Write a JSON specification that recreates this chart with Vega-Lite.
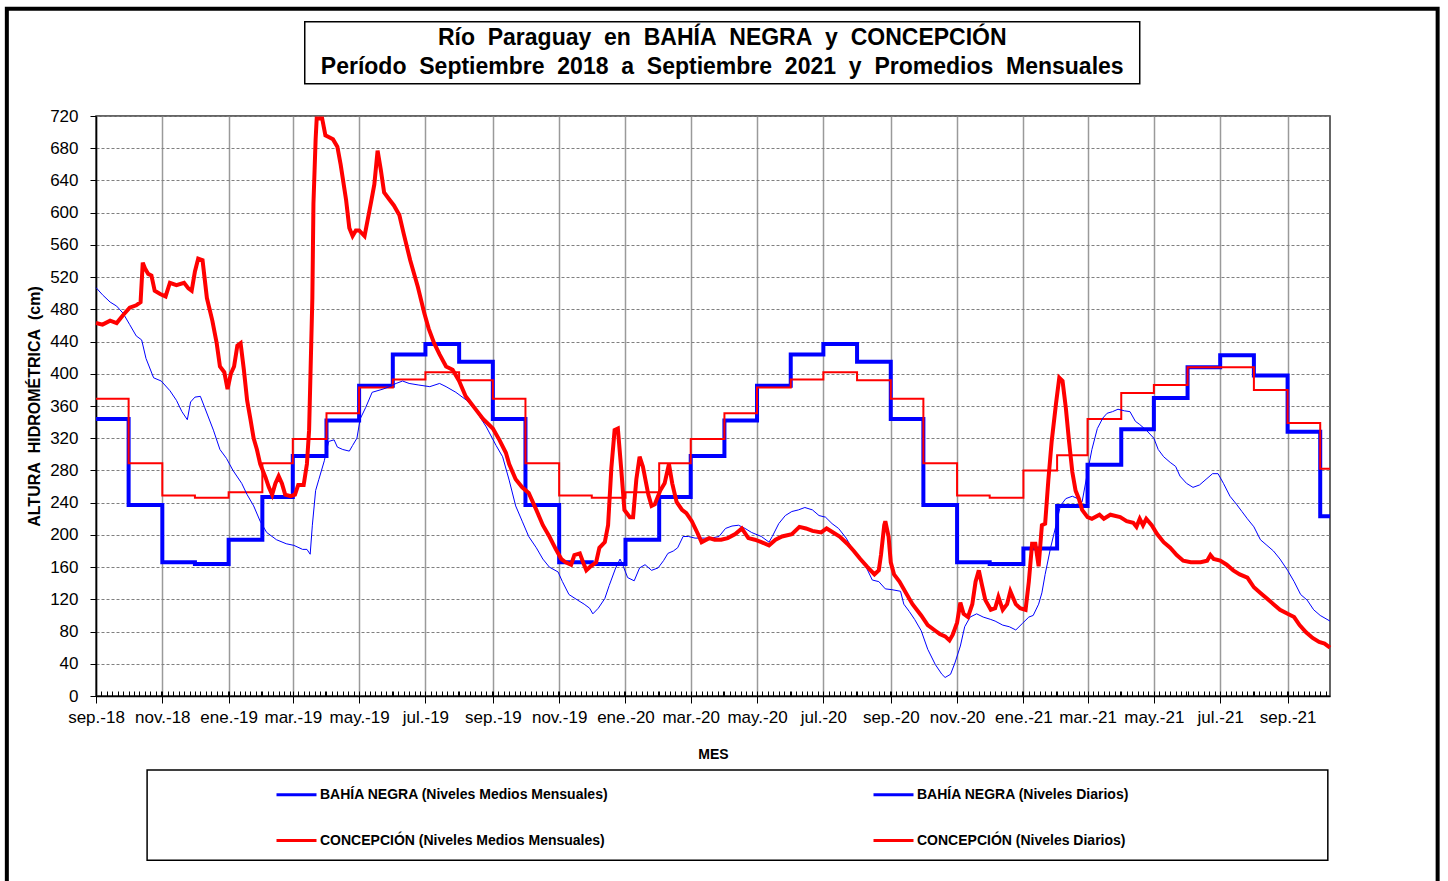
{
  "$schema": "https://vega.github.io/schema/vega-lite/v6.json",
  "width": 1234,
  "height": 580,
  "autosize": {"type": "none"},
  "padding": {"left": 96, "top": 116, "right": 118, "bottom": 185},
  "background": "white",
  "config": {
    "font": "Liberation Sans",
    "view": {"stroke": "#333333", "strokeWidth": 1.5},
    "axisY": {
      "grid": true,
      "gridColor": "#7f7f7f",
      "gridDash": [3, 2],
      "gridWidth": 1,
      "labelFont": "Liberation Sans",
      "labelFontSize": 17,
      "labelColor": "black",
      "labelPadding": 12,
      "labelOverlap": false,
      "tickSize": 6,
      "tickColor": "black",
      "domainColor": "black",
      "domainWidth": 1.5,
      "titleFont": "Liberation Sans",
      "titleFontSize": 16,
      "titleFontWeight": "bold",
      "titleColor": "black",
      "titlePadding": 7
    }
  },
  "datasets": {
    "mensual": [
      {"serie": "BAHÍA NEGRA (Niveles Medios Mensuales)", "fecha": "2018-09-01", "altura": 344},
      {"serie": "BAHÍA NEGRA (Niveles Medios Mensuales)", "fecha": "2018-10-01", "altura": 237},
      {"serie": "BAHÍA NEGRA (Niveles Medios Mensuales)", "fecha": "2018-11-01", "altura": 166},
      {"serie": "BAHÍA NEGRA (Niveles Medios Mensuales)", "fecha": "2018-12-01", "altura": 164},
      {"serie": "BAHÍA NEGRA (Niveles Medios Mensuales)", "fecha": "2019-01-01", "altura": 194},
      {"serie": "BAHÍA NEGRA (Niveles Medios Mensuales)", "fecha": "2019-02-01", "altura": 247},
      {"serie": "BAHÍA NEGRA (Niveles Medios Mensuales)", "fecha": "2019-03-01", "altura": 298},
      {"serie": "BAHÍA NEGRA (Niveles Medios Mensuales)", "fecha": "2019-04-01", "altura": 342},
      {"serie": "BAHÍA NEGRA (Niveles Medios Mensuales)", "fecha": "2019-05-01", "altura": 385},
      {"serie": "BAHÍA NEGRA (Niveles Medios Mensuales)", "fecha": "2019-06-01", "altura": 424},
      {"serie": "BAHÍA NEGRA (Niveles Medios Mensuales)", "fecha": "2019-07-01", "altura": 437},
      {"serie": "BAHÍA NEGRA (Niveles Medios Mensuales)", "fecha": "2019-08-01", "altura": 415},
      {"serie": "BAHÍA NEGRA (Niveles Medios Mensuales)", "fecha": "2019-09-01", "altura": 344},
      {"serie": "BAHÍA NEGRA (Niveles Medios Mensuales)", "fecha": "2019-10-01", "altura": 237},
      {"serie": "BAHÍA NEGRA (Niveles Medios Mensuales)", "fecha": "2019-11-01", "altura": 166},
      {"serie": "BAHÍA NEGRA (Niveles Medios Mensuales)", "fecha": "2019-12-01", "altura": 164},
      {"serie": "BAHÍA NEGRA (Niveles Medios Mensuales)", "fecha": "2020-01-01", "altura": 194},
      {"serie": "BAHÍA NEGRA (Niveles Medios Mensuales)", "fecha": "2020-02-01", "altura": 247},
      {"serie": "BAHÍA NEGRA (Niveles Medios Mensuales)", "fecha": "2020-03-01", "altura": 298},
      {"serie": "BAHÍA NEGRA (Niveles Medios Mensuales)", "fecha": "2020-04-01", "altura": 342},
      {"serie": "BAHÍA NEGRA (Niveles Medios Mensuales)", "fecha": "2020-05-01", "altura": 385},
      {"serie": "BAHÍA NEGRA (Niveles Medios Mensuales)", "fecha": "2020-06-01", "altura": 424},
      {"serie": "BAHÍA NEGRA (Niveles Medios Mensuales)", "fecha": "2020-07-01", "altura": 437},
      {"serie": "BAHÍA NEGRA (Niveles Medios Mensuales)", "fecha": "2020-08-01", "altura": 415},
      {"serie": "BAHÍA NEGRA (Niveles Medios Mensuales)", "fecha": "2020-09-01", "altura": 344},
      {"serie": "BAHÍA NEGRA (Niveles Medios Mensuales)", "fecha": "2020-10-01", "altura": 237},
      {"serie": "BAHÍA NEGRA (Niveles Medios Mensuales)", "fecha": "2020-11-01", "altura": 166},
      {"serie": "BAHÍA NEGRA (Niveles Medios Mensuales)", "fecha": "2020-12-01", "altura": 164},
      {"serie": "BAHÍA NEGRA (Niveles Medios Mensuales)", "fecha": "2021-01-01", "altura": 183},
      {"serie": "BAHÍA NEGRA (Niveles Medios Mensuales)", "fecha": "2021-02-01", "altura": 236},
      {"serie": "BAHÍA NEGRA (Niveles Medios Mensuales)", "fecha": "2021-03-01", "altura": 287},
      {"serie": "BAHÍA NEGRA (Niveles Medios Mensuales)", "fecha": "2021-04-01", "altura": 331},
      {"serie": "BAHÍA NEGRA (Niveles Medios Mensuales)", "fecha": "2021-05-01", "altura": 370},
      {"serie": "BAHÍA NEGRA (Niveles Medios Mensuales)", "fecha": "2021-06-01", "altura": 408},
      {"serie": "BAHÍA NEGRA (Niveles Medios Mensuales)", "fecha": "2021-07-01", "altura": 423},
      {"serie": "BAHÍA NEGRA (Niveles Medios Mensuales)", "fecha": "2021-08-01", "altura": 398},
      {"serie": "BAHÍA NEGRA (Niveles Medios Mensuales)", "fecha": "2021-09-01", "altura": 328},
      {"serie": "BAHÍA NEGRA (Niveles Medios Mensuales)", "fecha": "2021-10-01", "altura": 223},
      {"serie": "BAHÍA NEGRA (Niveles Medios Mensuales)", "fecha": "2021-10-10", "altura": 223},
      {"serie": "CONCEPCIÓN (Niveles Medios Mensuales)", "fecha": "2018-09-01", "altura": 369},
      {"serie": "CONCEPCIÓN (Niveles Medios Mensuales)", "fecha": "2018-10-01", "altura": 289},
      {"serie": "CONCEPCIÓN (Niveles Medios Mensuales)", "fecha": "2018-11-01", "altura": 249},
      {"serie": "CONCEPCIÓN (Niveles Medios Mensuales)", "fecha": "2018-12-01", "altura": 246},
      {"serie": "CONCEPCIÓN (Niveles Medios Mensuales)", "fecha": "2019-01-01", "altura": 253},
      {"serie": "CONCEPCIÓN (Niveles Medios Mensuales)", "fecha": "2019-02-01", "altura": 289},
      {"serie": "CONCEPCIÓN (Niveles Medios Mensuales)", "fecha": "2019-03-01", "altura": 319},
      {"serie": "CONCEPCIÓN (Niveles Medios Mensuales)", "fecha": "2019-04-01", "altura": 351},
      {"serie": "CONCEPCIÓN (Niveles Medios Mensuales)", "fecha": "2019-05-01", "altura": 383},
      {"serie": "CONCEPCIÓN (Niveles Medios Mensuales)", "fecha": "2019-06-01", "altura": 393},
      {"serie": "CONCEPCIÓN (Niveles Medios Mensuales)", "fecha": "2019-07-01", "altura": 402},
      {"serie": "CONCEPCIÓN (Niveles Medios Mensuales)", "fecha": "2019-08-01", "altura": 392},
      {"serie": "CONCEPCIÓN (Niveles Medios Mensuales)", "fecha": "2019-09-01", "altura": 369},
      {"serie": "CONCEPCIÓN (Niveles Medios Mensuales)", "fecha": "2019-10-01", "altura": 289},
      {"serie": "CONCEPCIÓN (Niveles Medios Mensuales)", "fecha": "2019-11-01", "altura": 249},
      {"serie": "CONCEPCIÓN (Niveles Medios Mensuales)", "fecha": "2019-12-01", "altura": 246},
      {"serie": "CONCEPCIÓN (Niveles Medios Mensuales)", "fecha": "2020-01-01", "altura": 253},
      {"serie": "CONCEPCIÓN (Niveles Medios Mensuales)", "fecha": "2020-02-01", "altura": 289},
      {"serie": "CONCEPCIÓN (Niveles Medios Mensuales)", "fecha": "2020-03-01", "altura": 319},
      {"serie": "CONCEPCIÓN (Niveles Medios Mensuales)", "fecha": "2020-04-01", "altura": 351},
      {"serie": "CONCEPCIÓN (Niveles Medios Mensuales)", "fecha": "2020-05-01", "altura": 383},
      {"serie": "CONCEPCIÓN (Niveles Medios Mensuales)", "fecha": "2020-06-01", "altura": 393},
      {"serie": "CONCEPCIÓN (Niveles Medios Mensuales)", "fecha": "2020-07-01", "altura": 402},
      {"serie": "CONCEPCIÓN (Niveles Medios Mensuales)", "fecha": "2020-08-01", "altura": 392},
      {"serie": "CONCEPCIÓN (Niveles Medios Mensuales)", "fecha": "2020-09-01", "altura": 369},
      {"serie": "CONCEPCIÓN (Niveles Medios Mensuales)", "fecha": "2020-10-01", "altura": 289},
      {"serie": "CONCEPCIÓN (Niveles Medios Mensuales)", "fecha": "2020-11-01", "altura": 249},
      {"serie": "CONCEPCIÓN (Niveles Medios Mensuales)", "fecha": "2020-12-01", "altura": 246},
      {"serie": "CONCEPCIÓN (Niveles Medios Mensuales)", "fecha": "2021-01-01", "altura": 280},
      {"serie": "CONCEPCIÓN (Niveles Medios Mensuales)", "fecha": "2021-02-01", "altura": 299},
      {"serie": "CONCEPCIÓN (Niveles Medios Mensuales)", "fecha": "2021-03-01", "altura": 344},
      {"serie": "CONCEPCIÓN (Niveles Medios Mensuales)", "fecha": "2021-04-01", "altura": 376},
      {"serie": "CONCEPCIÓN (Niveles Medios Mensuales)", "fecha": "2021-05-01", "altura": 386},
      {"serie": "CONCEPCIÓN (Niveles Medios Mensuales)", "fecha": "2021-06-01", "altura": 408},
      {"serie": "CONCEPCIÓN (Niveles Medios Mensuales)", "fecha": "2021-07-01", "altura": 408},
      {"serie": "CONCEPCIÓN (Niveles Medios Mensuales)", "fecha": "2021-08-01", "altura": 380},
      {"serie": "CONCEPCIÓN (Niveles Medios Mensuales)", "fecha": "2021-09-01", "altura": 339},
      {"serie": "CONCEPCIÓN (Niveles Medios Mensuales)", "fecha": "2021-10-01", "altura": 282},
      {"serie": "CONCEPCIÓN (Niveles Medios Mensuales)", "fecha": "2021-10-10", "altura": 282}
    ],
    "diario": [
      {"serie": "BAHÍA NEGRA (Niveles Diarios)", "fecha": "2018-09-01", "altura": 507},
      {"serie": "BAHÍA NEGRA (Niveles Diarios)", "fecha": "2018-09-07", "altura": 498},
      {"serie": "BAHÍA NEGRA (Niveles Diarios)", "fecha": "2018-09-14", "altura": 489},
      {"serie": "BAHÍA NEGRA (Niveles Diarios)", "fecha": "2018-09-20", "altura": 484},
      {"serie": "BAHÍA NEGRA (Niveles Diarios)", "fecha": "2018-09-26", "altura": 475},
      {"serie": "BAHÍA NEGRA (Niveles Diarios)", "fecha": "2018-10-02", "altura": 461},
      {"serie": "BAHÍA NEGRA (Niveles Diarios)", "fecha": "2018-10-08", "altura": 447},
      {"serie": "BAHÍA NEGRA (Niveles Diarios)", "fecha": "2018-10-13", "altura": 442},
      {"serie": "BAHÍA NEGRA (Niveles Diarios)", "fecha": "2018-10-17", "altura": 419},
      {"serie": "BAHÍA NEGRA (Niveles Diarios)", "fecha": "2018-10-24", "altura": 395},
      {"serie": "BAHÍA NEGRA (Niveles Diarios)", "fecha": "2018-10-31", "altura": 391},
      {"serie": "BAHÍA NEGRA (Niveles Diarios)", "fecha": "2018-11-08", "altura": 379},
      {"serie": "BAHÍA NEGRA (Niveles Diarios)", "fecha": "2018-11-14", "altura": 367},
      {"serie": "BAHÍA NEGRA (Niveles Diarios)", "fecha": "2018-11-19", "altura": 353},
      {"serie": "BAHÍA NEGRA (Niveles Diarios)", "fecha": "2018-11-24", "altura": 343},
      {"serie": "BAHÍA NEGRA (Niveles Diarios)", "fecha": "2018-11-27", "altura": 365},
      {"serie": "BAHÍA NEGRA (Niveles Diarios)", "fecha": "2018-12-01", "altura": 371},
      {"serie": "BAHÍA NEGRA (Niveles Diarios)", "fecha": "2018-12-06", "altura": 372},
      {"serie": "BAHÍA NEGRA (Niveles Diarios)", "fecha": "2018-12-10", "altura": 358},
      {"serie": "BAHÍA NEGRA (Niveles Diarios)", "fecha": "2018-12-18", "altura": 330},
      {"serie": "BAHÍA NEGRA (Niveles Diarios)", "fecha": "2018-12-24", "altura": 306},
      {"serie": "BAHÍA NEGRA (Niveles Diarios)", "fecha": "2018-12-30", "altura": 295},
      {"serie": "BAHÍA NEGRA (Niveles Diarios)", "fecha": "2019-01-05", "altura": 280},
      {"serie": "BAHÍA NEGRA (Niveles Diarios)", "fecha": "2019-01-13", "altura": 264},
      {"serie": "BAHÍA NEGRA (Niveles Diarios)", "fecha": "2019-01-18", "altura": 250},
      {"serie": "BAHÍA NEGRA (Niveles Diarios)", "fecha": "2019-01-24", "altura": 236},
      {"serie": "BAHÍA NEGRA (Niveles Diarios)", "fecha": "2019-01-30", "altura": 217},
      {"serie": "BAHÍA NEGRA (Niveles Diarios)", "fecha": "2019-02-05", "altura": 203},
      {"serie": "BAHÍA NEGRA (Niveles Diarios)", "fecha": "2019-02-14", "altura": 194},
      {"serie": "BAHÍA NEGRA (Niveles Diarios)", "fecha": "2019-02-23", "altura": 189},
      {"serie": "BAHÍA NEGRA (Niveles Diarios)", "fecha": "2019-03-02", "altura": 187},
      {"serie": "BAHÍA NEGRA (Niveles Diarios)", "fecha": "2019-03-10", "altura": 182},
      {"serie": "BAHÍA NEGRA (Niveles Diarios)", "fecha": "2019-03-14", "altura": 182},
      {"serie": "BAHÍA NEGRA (Niveles Diarios)", "fecha": "2019-03-17", "altura": 176},
      {"serie": "BAHÍA NEGRA (Niveles Diarios)", "fecha": "2019-03-19", "altura": 212},
      {"serie": "BAHÍA NEGRA (Niveles Diarios)", "fecha": "2019-03-22", "altura": 255},
      {"serie": "BAHÍA NEGRA (Niveles Diarios)", "fecha": "2019-03-25", "altura": 269},
      {"serie": "BAHÍA NEGRA (Niveles Diarios)", "fecha": "2019-03-30", "altura": 292},
      {"serie": "BAHÍA NEGRA (Niveles Diarios)", "fecha": "2019-04-03", "altura": 316},
      {"serie": "BAHÍA NEGRA (Niveles Diarios)", "fecha": "2019-04-08", "altura": 318},
      {"serie": "BAHÍA NEGRA (Niveles Diarios)", "fecha": "2019-04-11", "altura": 309},
      {"serie": "BAHÍA NEGRA (Niveles Diarios)", "fecha": "2019-04-16", "altura": 306},
      {"serie": "BAHÍA NEGRA (Niveles Diarios)", "fecha": "2019-04-22", "altura": 304},
      {"serie": "BAHÍA NEGRA (Niveles Diarios)", "fecha": "2019-04-25", "altura": 311},
      {"serie": "BAHÍA NEGRA (Niveles Diarios)", "fecha": "2019-04-29", "altura": 320},
      {"serie": "BAHÍA NEGRA (Niveles Diarios)", "fecha": "2019-05-02", "altura": 344},
      {"serie": "BAHÍA NEGRA (Niveles Diarios)", "fecha": "2019-05-07", "altura": 358},
      {"serie": "BAHÍA NEGRA (Niveles Diarios)", "fecha": "2019-05-13", "altura": 377},
      {"serie": "BAHÍA NEGRA (Niveles Diarios)", "fecha": "2019-05-23", "altura": 381},
      {"serie": "BAHÍA NEGRA (Niveles Diarios)", "fecha": "2019-05-29", "altura": 384},
      {"serie": "BAHÍA NEGRA (Niveles Diarios)", "fecha": "2019-06-04", "altura": 388},
      {"serie": "BAHÍA NEGRA (Niveles Diarios)", "fecha": "2019-06-10", "altura": 391},
      {"serie": "BAHÍA NEGRA (Niveles Diarios)", "fecha": "2019-06-16", "altura": 388},
      {"serie": "BAHÍA NEGRA (Niveles Diarios)", "fecha": "2019-06-25", "altura": 386},
      {"serie": "BAHÍA NEGRA (Niveles Diarios)", "fecha": "2019-07-05", "altura": 384},
      {"serie": "BAHÍA NEGRA (Niveles Diarios)", "fecha": "2019-07-14", "altura": 388},
      {"serie": "BAHÍA NEGRA (Niveles Diarios)", "fecha": "2019-07-20", "altura": 384},
      {"serie": "BAHÍA NEGRA (Niveles Diarios)", "fecha": "2019-07-29", "altura": 377},
      {"serie": "BAHÍA NEGRA (Niveles Diarios)", "fecha": "2019-08-08", "altura": 367},
      {"serie": "BAHÍA NEGRA (Niveles Diarios)", "fecha": "2019-08-17", "altura": 353},
      {"serie": "BAHÍA NEGRA (Niveles Diarios)", "fecha": "2019-08-26", "altura": 334},
      {"serie": "BAHÍA NEGRA (Niveles Diarios)", "fecha": "2019-09-04", "altura": 311},
      {"serie": "BAHÍA NEGRA (Niveles Diarios)", "fecha": "2019-09-10", "altura": 297},
      {"serie": "BAHÍA NEGRA (Niveles Diarios)", "fecha": "2019-09-16", "altura": 268},
      {"serie": "BAHÍA NEGRA (Niveles Diarios)", "fecha": "2019-09-22", "altura": 236},
      {"serie": "BAHÍA NEGRA (Niveles Diarios)", "fecha": "2019-09-28", "altura": 217},
      {"serie": "BAHÍA NEGRA (Niveles Diarios)", "fecha": "2019-10-04", "altura": 198},
      {"serie": "BAHÍA NEGRA (Niveles Diarios)", "fecha": "2019-10-11", "altura": 184},
      {"serie": "BAHÍA NEGRA (Niveles Diarios)", "fecha": "2019-10-17", "altura": 170},
      {"serie": "BAHÍA NEGRA (Niveles Diarios)", "fecha": "2019-10-23", "altura": 160},
      {"serie": "BAHÍA NEGRA (Niveles Diarios)", "fecha": "2019-10-31", "altura": 154},
      {"serie": "BAHÍA NEGRA (Niveles Diarios)", "fecha": "2019-11-04", "altura": 142},
      {"serie": "BAHÍA NEGRA (Niveles Diarios)", "fecha": "2019-11-10", "altura": 126},
      {"serie": "BAHÍA NEGRA (Niveles Diarios)", "fecha": "2019-11-18", "altura": 119},
      {"serie": "BAHÍA NEGRA (Niveles Diarios)", "fecha": "2019-11-24", "altura": 114},
      {"serie": "BAHÍA NEGRA (Niveles Diarios)", "fecha": "2019-11-29", "altura": 109},
      {"serie": "BAHÍA NEGRA (Niveles Diarios)", "fecha": "2019-12-02", "altura": 102},
      {"serie": "BAHÍA NEGRA (Niveles Diarios)", "fecha": "2019-12-07", "altura": 109},
      {"serie": "BAHÍA NEGRA (Niveles Diarios)", "fecha": "2019-12-13", "altura": 121},
      {"serie": "BAHÍA NEGRA (Niveles Diarios)", "fecha": "2019-12-17", "altura": 137},
      {"serie": "BAHÍA NEGRA (Niveles Diarios)", "fecha": "2019-12-23", "altura": 159},
      {"serie": "BAHÍA NEGRA (Niveles Diarios)", "fecha": "2019-12-27", "altura": 170},
      {"serie": "BAHÍA NEGRA (Niveles Diarios)", "fecha": "2019-12-30", "altura": 161},
      {"serie": "BAHÍA NEGRA (Niveles Diarios)", "fecha": "2020-01-03", "altura": 147},
      {"serie": "BAHÍA NEGRA (Niveles Diarios)", "fecha": "2020-01-09", "altura": 143},
      {"serie": "BAHÍA NEGRA (Niveles Diarios)", "fecha": "2020-01-14", "altura": 159},
      {"serie": "BAHÍA NEGRA (Niveles Diarios)", "fecha": "2020-01-19", "altura": 163},
      {"serie": "BAHÍA NEGRA (Niveles Diarios)", "fecha": "2020-01-25", "altura": 156},
      {"serie": "BAHÍA NEGRA (Niveles Diarios)", "fecha": "2020-01-31", "altura": 159},
      {"serie": "BAHÍA NEGRA (Niveles Diarios)", "fecha": "2020-02-05", "altura": 168},
      {"serie": "BAHÍA NEGRA (Niveles Diarios)", "fecha": "2020-02-09", "altura": 177},
      {"serie": "BAHÍA NEGRA (Niveles Diarios)", "fecha": "2020-02-14", "altura": 180},
      {"serie": "BAHÍA NEGRA (Niveles Diarios)", "fecha": "2020-02-18", "altura": 184},
      {"serie": "BAHÍA NEGRA (Niveles Diarios)", "fecha": "2020-02-23", "altura": 198},
      {"serie": "BAHÍA NEGRA (Niveles Diarios)", "fecha": "2020-02-28", "altura": 198},
      {"serie": "BAHÍA NEGRA (Niveles Diarios)", "fecha": "2020-03-05", "altura": 196},
      {"serie": "BAHÍA NEGRA (Niveles Diarios)", "fecha": "2020-03-14", "altura": 196},
      {"serie": "BAHÍA NEGRA (Niveles Diarios)", "fecha": "2020-03-20", "altura": 196},
      {"serie": "BAHÍA NEGRA (Niveles Diarios)", "fecha": "2020-03-27", "altura": 198},
      {"serie": "BAHÍA NEGRA (Niveles Diarios)", "fecha": "2020-04-02", "altura": 208},
      {"serie": "BAHÍA NEGRA (Niveles Diarios)", "fecha": "2020-04-08", "altura": 211},
      {"serie": "BAHÍA NEGRA (Niveles Diarios)", "fecha": "2020-04-14", "altura": 212},
      {"serie": "BAHÍA NEGRA (Niveles Diarios)", "fecha": "2020-04-20", "altura": 208},
      {"serie": "BAHÍA NEGRA (Niveles Diarios)", "fecha": "2020-04-26", "altura": 203},
      {"serie": "BAHÍA NEGRA (Niveles Diarios)", "fecha": "2020-05-05", "altura": 198},
      {"serie": "BAHÍA NEGRA (Niveles Diarios)", "fecha": "2020-05-12", "altura": 191},
      {"serie": "BAHÍA NEGRA (Niveles Diarios)", "fecha": "2020-05-15", "altura": 198},
      {"serie": "BAHÍA NEGRA (Niveles Diarios)", "fecha": "2020-05-21", "altura": 214},
      {"serie": "BAHÍA NEGRA (Niveles Diarios)", "fecha": "2020-05-27", "altura": 224},
      {"serie": "BAHÍA NEGRA (Niveles Diarios)", "fecha": "2020-06-02", "altura": 229},
      {"serie": "BAHÍA NEGRA (Niveles Diarios)", "fecha": "2020-06-08", "altura": 231},
      {"serie": "BAHÍA NEGRA (Niveles Diarios)", "fecha": "2020-06-14", "altura": 234},
      {"serie": "BAHÍA NEGRA (Niveles Diarios)", "fecha": "2020-06-21", "altura": 231},
      {"serie": "BAHÍA NEGRA (Niveles Diarios)", "fecha": "2020-06-27", "altura": 224},
      {"serie": "BAHÍA NEGRA (Niveles Diarios)", "fecha": "2020-07-03", "altura": 222},
      {"serie": "BAHÍA NEGRA (Niveles Diarios)", "fecha": "2020-07-09", "altura": 214},
      {"serie": "BAHÍA NEGRA (Niveles Diarios)", "fecha": "2020-07-15", "altura": 208},
      {"serie": "BAHÍA NEGRA (Niveles Diarios)", "fecha": "2020-07-22", "altura": 196},
      {"serie": "BAHÍA NEGRA (Niveles Diarios)", "fecha": "2020-07-28", "altura": 182},
      {"serie": "BAHÍA NEGRA (Niveles Diarios)", "fecha": "2020-08-03", "altura": 173},
      {"serie": "BAHÍA NEGRA (Niveles Diarios)", "fecha": "2020-08-09", "altura": 161},
      {"serie": "BAHÍA NEGRA (Niveles Diarios)", "fecha": "2020-08-15", "altura": 144},
      {"serie": "BAHÍA NEGRA (Niveles Diarios)", "fecha": "2020-08-21", "altura": 142},
      {"serie": "BAHÍA NEGRA (Niveles Diarios)", "fecha": "2020-08-27", "altura": 133},
      {"serie": "BAHÍA NEGRA (Niveles Diarios)", "fecha": "2020-09-02", "altura": 132},
      {"serie": "BAHÍA NEGRA (Niveles Diarios)", "fecha": "2020-09-10", "altura": 130},
      {"serie": "BAHÍA NEGRA (Niveles Diarios)", "fecha": "2020-09-13", "altura": 114},
      {"serie": "BAHÍA NEGRA (Niveles Diarios)", "fecha": "2020-09-18", "altura": 105},
      {"serie": "BAHÍA NEGRA (Niveles Diarios)", "fecha": "2020-09-23", "altura": 95},
      {"serie": "BAHÍA NEGRA (Niveles Diarios)", "fecha": "2020-09-29", "altura": 81},
      {"serie": "BAHÍA NEGRA (Niveles Diarios)", "fecha": "2020-10-05", "altura": 58},
      {"serie": "BAHÍA NEGRA (Niveles Diarios)", "fecha": "2020-10-12", "altura": 39},
      {"serie": "BAHÍA NEGRA (Niveles Diarios)", "fecha": "2020-10-18", "altura": 27},
      {"serie": "BAHÍA NEGRA (Niveles Diarios)", "fecha": "2020-10-21", "altura": 23},
      {"serie": "BAHÍA NEGRA (Niveles Diarios)", "fecha": "2020-10-26", "altura": 27},
      {"serie": "BAHÍA NEGRA (Niveles Diarios)", "fecha": "2020-10-30", "altura": 41},
      {"serie": "BAHÍA NEGRA (Niveles Diarios)", "fecha": "2020-11-04", "altura": 62},
      {"serie": "BAHÍA NEGRA (Niveles Diarios)", "fecha": "2020-11-08", "altura": 86},
      {"serie": "BAHÍA NEGRA (Niveles Diarios)", "fecha": "2020-11-13", "altura": 98},
      {"serie": "BAHÍA NEGRA (Niveles Diarios)", "fecha": "2020-11-19", "altura": 102},
      {"serie": "BAHÍA NEGRA (Niveles Diarios)", "fecha": "2020-11-25", "altura": 98},
      {"serie": "BAHÍA NEGRA (Niveles Diarios)", "fecha": "2020-12-02", "altura": 95},
      {"serie": "BAHÍA NEGRA (Niveles Diarios)", "fecha": "2020-12-06", "altura": 93},
      {"serie": "BAHÍA NEGRA (Niveles Diarios)", "fecha": "2020-12-13", "altura": 88},
      {"serie": "BAHÍA NEGRA (Niveles Diarios)", "fecha": "2020-12-19", "altura": 86},
      {"serie": "BAHÍA NEGRA (Niveles Diarios)", "fecha": "2020-12-25", "altura": 82},
      {"serie": "BAHÍA NEGRA (Niveles Diarios)", "fecha": "2020-12-31", "altura": 90},
      {"serie": "BAHÍA NEGRA (Niveles Diarios)", "fecha": "2021-01-06", "altura": 98},
      {"serie": "BAHÍA NEGRA (Niveles Diarios)", "fecha": "2021-01-10", "altura": 100},
      {"serie": "BAHÍA NEGRA (Niveles Diarios)", "fecha": "2021-01-15", "altura": 114},
      {"serie": "BAHÍA NEGRA (Niveles Diarios)", "fecha": "2021-01-18", "altura": 128},
      {"serie": "BAHÍA NEGRA (Niveles Diarios)", "fecha": "2021-01-21", "altura": 151},
      {"serie": "BAHÍA NEGRA (Niveles Diarios)", "fecha": "2021-01-26", "altura": 184},
      {"serie": "BAHÍA NEGRA (Niveles Diarios)", "fecha": "2021-01-31", "altura": 212},
      {"serie": "BAHÍA NEGRA (Niveles Diarios)", "fecha": "2021-02-04", "altura": 236},
      {"serie": "BAHÍA NEGRA (Niveles Diarios)", "fecha": "2021-02-09", "altura": 245},
      {"serie": "BAHÍA NEGRA (Niveles Diarios)", "fecha": "2021-02-15", "altura": 248},
      {"serie": "BAHÍA NEGRA (Niveles Diarios)", "fecha": "2021-02-20", "altura": 245},
      {"serie": "BAHÍA NEGRA (Niveles Diarios)", "fecha": "2021-02-24", "altura": 241},
      {"serie": "BAHÍA NEGRA (Niveles Diarios)", "fecha": "2021-03-01", "altura": 278},
      {"serie": "BAHÍA NEGRA (Niveles Diarios)", "fecha": "2021-03-05", "altura": 306},
      {"serie": "BAHÍA NEGRA (Niveles Diarios)", "fecha": "2021-03-10", "altura": 332},
      {"serie": "BAHÍA NEGRA (Niveles Diarios)", "fecha": "2021-03-15", "altura": 345},
      {"serie": "BAHÍA NEGRA (Niveles Diarios)", "fecha": "2021-03-19", "altura": 351},
      {"serie": "BAHÍA NEGRA (Niveles Diarios)", "fecha": "2021-03-24", "altura": 353},
      {"serie": "BAHÍA NEGRA (Niveles Diarios)", "fecha": "2021-03-29", "altura": 356},
      {"serie": "BAHÍA NEGRA (Niveles Diarios)", "fecha": "2021-04-04", "altura": 354},
      {"serie": "BAHÍA NEGRA (Niveles Diarios)", "fecha": "2021-04-09", "altura": 353},
      {"serie": "BAHÍA NEGRA (Niveles Diarios)", "fecha": "2021-04-14", "altura": 341},
      {"serie": "BAHÍA NEGRA (Niveles Diarios)", "fecha": "2021-04-18", "altura": 337},
      {"serie": "BAHÍA NEGRA (Niveles Diarios)", "fecha": "2021-04-24", "altura": 330},
      {"serie": "BAHÍA NEGRA (Niveles Diarios)", "fecha": "2021-05-01", "altura": 320},
      {"serie": "BAHÍA NEGRA (Niveles Diarios)", "fecha": "2021-05-05", "altura": 306},
      {"serie": "BAHÍA NEGRA (Niveles Diarios)", "fecha": "2021-05-10", "altura": 297},
      {"serie": "BAHÍA NEGRA (Niveles Diarios)", "fecha": "2021-05-16", "altura": 290},
      {"serie": "BAHÍA NEGRA (Niveles Diarios)", "fecha": "2021-05-21", "altura": 285},
      {"serie": "BAHÍA NEGRA (Niveles Diarios)", "fecha": "2021-05-25", "altura": 273},
      {"serie": "BAHÍA NEGRA (Niveles Diarios)", "fecha": "2021-05-31", "altura": 264},
      {"serie": "BAHÍA NEGRA (Niveles Diarios)", "fecha": "2021-06-06", "altura": 259},
      {"serie": "BAHÍA NEGRA (Niveles Diarios)", "fecha": "2021-06-12", "altura": 262},
      {"serie": "BAHÍA NEGRA (Niveles Diarios)", "fecha": "2021-06-18", "altura": 269},
      {"serie": "BAHÍA NEGRA (Niveles Diarios)", "fecha": "2021-06-24", "altura": 276},
      {"serie": "BAHÍA NEGRA (Niveles Diarios)", "fecha": "2021-06-29", "altura": 276},
      {"serie": "BAHÍA NEGRA (Niveles Diarios)", "fecha": "2021-07-04", "altura": 264},
      {"serie": "BAHÍA NEGRA (Niveles Diarios)", "fecha": "2021-07-10", "altura": 248},
      {"serie": "BAHÍA NEGRA (Niveles Diarios)", "fecha": "2021-07-16", "altura": 238},
      {"serie": "BAHÍA NEGRA (Niveles Diarios)", "fecha": "2021-07-21", "altura": 229},
      {"serie": "BAHÍA NEGRA (Niveles Diarios)", "fecha": "2021-07-26", "altura": 220},
      {"serie": "BAHÍA NEGRA (Niveles Diarios)", "fecha": "2021-08-01", "altura": 210},
      {"serie": "BAHÍA NEGRA (Niveles Diarios)", "fecha": "2021-08-07", "altura": 194},
      {"serie": "BAHÍA NEGRA (Niveles Diarios)", "fecha": "2021-08-13", "altura": 187},
      {"serie": "BAHÍA NEGRA (Niveles Diarios)", "fecha": "2021-08-19", "altura": 180},
      {"serie": "BAHÍA NEGRA (Niveles Diarios)", "fecha": "2021-08-25", "altura": 170},
      {"serie": "BAHÍA NEGRA (Niveles Diarios)", "fecha": "2021-09-01", "altura": 156},
      {"serie": "BAHÍA NEGRA (Niveles Diarios)", "fecha": "2021-09-07", "altura": 142},
      {"serie": "BAHÍA NEGRA (Niveles Diarios)", "fecha": "2021-09-13", "altura": 126},
      {"serie": "BAHÍA NEGRA (Niveles Diarios)", "fecha": "2021-09-19", "altura": 119},
      {"serie": "BAHÍA NEGRA (Niveles Diarios)", "fecha": "2021-09-25", "altura": 107},
      {"serie": "BAHÍA NEGRA (Niveles Diarios)", "fecha": "2021-10-01", "altura": 100},
      {"serie": "BAHÍA NEGRA (Niveles Diarios)", "fecha": "2021-10-10", "altura": 93},
      {"serie": "CONCEPCIÓN (Niveles Diarios)", "fecha": "2018-09-01", "altura": 463},
      {"serie": "CONCEPCIÓN (Niveles Diarios)", "fecha": "2018-09-07", "altura": 461},
      {"serie": "CONCEPCIÓN (Niveles Diarios)", "fecha": "2018-09-14", "altura": 466},
      {"serie": "CONCEPCIÓN (Niveles Diarios)", "fecha": "2018-09-20", "altura": 463},
      {"serie": "CONCEPCIÓN (Niveles Diarios)", "fecha": "2018-09-26", "altura": 473},
      {"serie": "CONCEPCIÓN (Niveles Diarios)", "fecha": "2018-10-02", "altura": 482},
      {"serie": "CONCEPCIÓN (Niveles Diarios)", "fecha": "2018-10-08", "altura": 485},
      {"serie": "CONCEPCIÓN (Niveles Diarios)", "fecha": "2018-10-12", "altura": 489},
      {"serie": "CONCEPCIÓN (Niveles Diarios)", "fecha": "2018-10-14", "altura": 538},
      {"serie": "CONCEPCIÓN (Niveles Diarios)", "fecha": "2018-10-16", "altura": 531},
      {"serie": "CONCEPCIÓN (Niveles Diarios)", "fecha": "2018-10-19", "altura": 524},
      {"serie": "CONCEPCIÓN (Niveles Diarios)", "fecha": "2018-10-22", "altura": 522},
      {"serie": "CONCEPCIÓN (Niveles Diarios)", "fecha": "2018-10-25", "altura": 503},
      {"serie": "CONCEPCIÓN (Niveles Diarios)", "fecha": "2018-10-30", "altura": 499},
      {"serie": "CONCEPCIÓN (Niveles Diarios)", "fecha": "2018-11-04", "altura": 496},
      {"serie": "CONCEPCIÓN (Niveles Diarios)", "fecha": "2018-11-08", "altura": 513},
      {"serie": "CONCEPCIÓN (Niveles Diarios)", "fecha": "2018-11-14", "altura": 510},
      {"serie": "CONCEPCIÓN (Niveles Diarios)", "fecha": "2018-11-21", "altura": 513},
      {"serie": "CONCEPCIÓN (Niveles Diarios)", "fecha": "2018-11-25", "altura": 506},
      {"serie": "CONCEPCIÓN (Niveles Diarios)", "fecha": "2018-11-28", "altura": 503},
      {"serie": "CONCEPCIÓN (Niveles Diarios)", "fecha": "2018-12-01", "altura": 527},
      {"serie": "CONCEPCIÓN (Niveles Diarios)", "fecha": "2018-12-04", "altura": 543},
      {"serie": "CONCEPCIÓN (Niveles Diarios)", "fecha": "2018-12-08", "altura": 541},
      {"serie": "CONCEPCIÓN (Niveles Diarios)", "fecha": "2018-12-12", "altura": 494},
      {"serie": "CONCEPCIÓN (Niveles Diarios)", "fecha": "2018-12-17", "altura": 466},
      {"serie": "CONCEPCIÓN (Niveles Diarios)", "fecha": "2018-12-21", "altura": 438},
      {"serie": "CONCEPCIÓN (Niveles Diarios)", "fecha": "2018-12-24", "altura": 409},
      {"serie": "CONCEPCIÓN (Niveles Diarios)", "fecha": "2018-12-28", "altura": 402},
      {"serie": "CONCEPCIÓN (Niveles Diarios)", "fecha": "2018-12-31", "altura": 381},
      {"serie": "CONCEPCIÓN (Niveles Diarios)", "fecha": "2019-01-03", "altura": 400},
      {"serie": "CONCEPCIÓN (Niveles Diarios)", "fecha": "2019-01-06", "altura": 409},
      {"serie": "CONCEPCIÓN (Niveles Diarios)", "fecha": "2019-01-09", "altura": 435},
      {"serie": "CONCEPCIÓN (Niveles Diarios)", "fecha": "2019-01-12", "altura": 438},
      {"serie": "CONCEPCIÓN (Niveles Diarios)", "fecha": "2019-01-15", "altura": 405},
      {"serie": "CONCEPCIÓN (Niveles Diarios)", "fecha": "2019-01-18", "altura": 367},
      {"serie": "CONCEPCIÓN (Niveles Diarios)", "fecha": "2019-01-21", "altura": 344},
      {"serie": "CONCEPCIÓN (Niveles Diarios)", "fecha": "2019-01-24", "altura": 320},
      {"serie": "CONCEPCIÓN (Niveles Diarios)", "fecha": "2019-01-27", "altura": 306},
      {"serie": "CONCEPCIÓN (Niveles Diarios)", "fecha": "2019-01-30", "altura": 288},
      {"serie": "CONCEPCIÓN (Niveles Diarios)", "fecha": "2019-02-04", "altura": 271},
      {"serie": "CONCEPCIÓN (Niveles Diarios)", "fecha": "2019-02-07", "altura": 259},
      {"serie": "CONCEPCIÓN (Niveles Diarios)", "fecha": "2019-02-10", "altura": 250},
      {"serie": "CONCEPCIÓN (Niveles Diarios)", "fecha": "2019-02-13", "altura": 264},
      {"serie": "CONCEPCIÓN (Niveles Diarios)", "fecha": "2019-02-16", "altura": 273},
      {"serie": "CONCEPCIÓN (Niveles Diarios)", "fecha": "2019-02-19", "altura": 264},
      {"serie": "CONCEPCIÓN (Niveles Diarios)", "fecha": "2019-02-22", "altura": 250},
      {"serie": "CONCEPCIÓN (Niveles Diarios)", "fecha": "2019-02-27", "altura": 248},
      {"serie": "CONCEPCIÓN (Niveles Diarios)", "fecha": "2019-03-03", "altura": 250},
      {"serie": "CONCEPCIÓN (Niveles Diarios)", "fecha": "2019-03-06", "altura": 262},
      {"serie": "CONCEPCIÓN (Niveles Diarios)", "fecha": "2019-03-11", "altura": 262},
      {"serie": "CONCEPCIÓN (Niveles Diarios)", "fecha": "2019-03-14", "altura": 288},
      {"serie": "CONCEPCIÓN (Niveles Diarios)", "fecha": "2019-03-16", "altura": 330},
      {"serie": "CONCEPCIÓN (Niveles Diarios)", "fecha": "2019-03-19", "altura": 494},
      {"serie": "CONCEPCIÓN (Niveles Diarios)", "fecha": "2019-03-20", "altura": 611},
      {"serie": "CONCEPCIÓN (Niveles Diarios)", "fecha": "2019-03-22", "altura": 691},
      {"serie": "CONCEPCIÓN (Niveles Diarios)", "fecha": "2019-03-23", "altura": 717},
      {"serie": "CONCEPCIÓN (Niveles Diarios)", "fecha": "2019-03-28", "altura": 717},
      {"serie": "CONCEPCIÓN (Niveles Diarios)", "fecha": "2019-03-31", "altura": 696},
      {"serie": "CONCEPCIÓN (Niveles Diarios)", "fecha": "2019-04-03", "altura": 694},
      {"serie": "CONCEPCIÓN (Niveles Diarios)", "fecha": "2019-04-07", "altura": 691},
      {"serie": "CONCEPCIÓN (Niveles Diarios)", "fecha": "2019-04-11", "altura": 682},
      {"serie": "CONCEPCIÓN (Niveles Diarios)", "fecha": "2019-04-14", "altura": 660},
      {"serie": "CONCEPCIÓN (Niveles Diarios)", "fecha": "2019-04-19", "altura": 616},
      {"serie": "CONCEPCIÓN (Niveles Diarios)", "fecha": "2019-04-22", "altura": 581},
      {"serie": "CONCEPCIÓN (Niveles Diarios)", "fecha": "2019-04-25", "altura": 571},
      {"serie": "CONCEPCIÓN (Niveles Diarios)", "fecha": "2019-04-28", "altura": 578},
      {"serie": "CONCEPCIÓN (Niveles Diarios)", "fecha": "2019-05-01", "altura": 578},
      {"serie": "CONCEPCIÓN (Niveles Diarios)", "fecha": "2019-05-06", "altura": 571},
      {"serie": "CONCEPCIÓN (Niveles Diarios)", "fecha": "2019-05-09", "altura": 592},
      {"serie": "CONCEPCIÓN (Niveles Diarios)", "fecha": "2019-05-12", "altura": 613},
      {"serie": "CONCEPCIÓN (Niveles Diarios)", "fecha": "2019-05-15", "altura": 635},
      {"serie": "CONCEPCIÓN (Niveles Diarios)", "fecha": "2019-05-18", "altura": 677},
      {"serie": "CONCEPCIÓN (Niveles Diarios)", "fecha": "2019-05-21", "altura": 653},
      {"serie": "CONCEPCIÓN (Niveles Diarios)", "fecha": "2019-05-24", "altura": 625},
      {"serie": "CONCEPCIÓN (Niveles Diarios)", "fecha": "2019-05-29", "altura": 616},
      {"serie": "CONCEPCIÓN (Niveles Diarios)", "fecha": "2019-06-02", "altura": 609},
      {"serie": "CONCEPCIÓN (Niveles Diarios)", "fecha": "2019-06-07", "altura": 597},
      {"serie": "CONCEPCIÓN (Niveles Diarios)", "fecha": "2019-06-11", "altura": 574},
      {"serie": "CONCEPCIÓN (Niveles Diarios)", "fecha": "2019-06-17", "altura": 541},
      {"serie": "CONCEPCIÓN (Niveles Diarios)", "fecha": "2019-06-24", "altura": 508},
      {"serie": "CONCEPCIÓN (Niveles Diarios)", "fecha": "2019-06-30", "altura": 475},
      {"serie": "CONCEPCIÓN (Niveles Diarios)", "fecha": "2019-07-04", "altura": 456},
      {"serie": "CONCEPCIÓN (Niveles Diarios)", "fecha": "2019-07-09", "altura": 438},
      {"serie": "CONCEPCIÓN (Niveles Diarios)", "fecha": "2019-07-14", "altura": 424},
      {"serie": "CONCEPCIÓN (Niveles Diarios)", "fecha": "2019-07-20", "altura": 409},
      {"serie": "CONCEPCIÓN (Niveles Diarios)", "fecha": "2019-07-26", "altura": 405},
      {"serie": "CONCEPCIÓN (Niveles Diarios)", "fecha": "2019-08-01", "altura": 391},
      {"serie": "CONCEPCIÓN (Niveles Diarios)", "fecha": "2019-08-07", "altura": 372},
      {"serie": "CONCEPCIÓN (Niveles Diarios)", "fecha": "2019-08-15", "altura": 358},
      {"serie": "CONCEPCIÓN (Niveles Diarios)", "fecha": "2019-08-23", "altura": 344},
      {"serie": "CONCEPCIÓN (Niveles Diarios)", "fecha": "2019-09-01", "altura": 332},
      {"serie": "CONCEPCIÓN (Niveles Diarios)", "fecha": "2019-09-07", "altura": 318},
      {"serie": "CONCEPCIÓN (Niveles Diarios)", "fecha": "2019-09-13", "altura": 302},
      {"serie": "CONCEPCIÓN (Niveles Diarios)", "fecha": "2019-09-16", "altura": 288},
      {"serie": "CONCEPCIÓN (Niveles Diarios)", "fecha": "2019-09-22", "altura": 269},
      {"serie": "CONCEPCIÓN (Niveles Diarios)", "fecha": "2019-09-28", "altura": 259},
      {"serie": "CONCEPCIÓN (Niveles Diarios)", "fecha": "2019-10-04", "altura": 252},
      {"serie": "CONCEPCIÓN (Niveles Diarios)", "fecha": "2019-10-11", "altura": 231},
      {"serie": "CONCEPCIÓN (Niveles Diarios)", "fecha": "2019-10-17", "altura": 212},
      {"serie": "CONCEPCIÓN (Niveles Diarios)", "fecha": "2019-10-23", "altura": 198},
      {"serie": "CONCEPCIÓN (Niveles Diarios)", "fecha": "2019-10-29", "altura": 182},
      {"serie": "CONCEPCIÓN (Niveles Diarios)", "fecha": "2019-11-03", "altura": 170},
      {"serie": "CONCEPCIÓN (Niveles Diarios)", "fecha": "2019-11-07", "altura": 166},
      {"serie": "CONCEPCIÓN (Niveles Diarios)", "fecha": "2019-11-12", "altura": 163},
      {"serie": "CONCEPCIÓN (Niveles Diarios)", "fecha": "2019-11-15", "altura": 175},
      {"serie": "CONCEPCIÓN (Niveles Diarios)", "fecha": "2019-11-20", "altura": 177},
      {"serie": "CONCEPCIÓN (Niveles Diarios)", "fecha": "2019-11-23", "altura": 166},
      {"serie": "CONCEPCIÓN (Niveles Diarios)", "fecha": "2019-11-26", "altura": 156},
      {"serie": "CONCEPCIÓN (Niveles Diarios)", "fecha": "2019-11-30", "altura": 161},
      {"serie": "CONCEPCIÓN (Niveles Diarios)", "fecha": "2019-12-05", "altura": 166},
      {"serie": "CONCEPCIÓN (Niveles Diarios)", "fecha": "2019-12-08", "altura": 184},
      {"serie": "CONCEPCIÓN (Niveles Diarios)", "fecha": "2019-12-13", "altura": 191},
      {"serie": "CONCEPCIÓN (Niveles Diarios)", "fecha": "2019-12-16", "altura": 212},
      {"serie": "CONCEPCIÓN (Niveles Diarios)", "fecha": "2019-12-19", "altura": 283},
      {"serie": "CONCEPCIÓN (Niveles Diarios)", "fecha": "2019-12-22", "altura": 330},
      {"serie": "CONCEPCIÓN (Niveles Diarios)", "fecha": "2019-12-25", "altura": 332},
      {"serie": "CONCEPCIÓN (Niveles Diarios)", "fecha": "2019-12-28", "altura": 283},
      {"serie": "CONCEPCIÓN (Niveles Diarios)", "fecha": "2019-12-31", "altura": 231},
      {"serie": "CONCEPCIÓN (Niveles Diarios)", "fecha": "2020-01-05", "altura": 222},
      {"serie": "CONCEPCIÓN (Niveles Diarios)", "fecha": "2020-01-08", "altura": 222},
      {"serie": "CONCEPCIÓN (Niveles Diarios)", "fecha": "2020-01-11", "altura": 269},
      {"serie": "CONCEPCIÓN (Niveles Diarios)", "fecha": "2020-01-14", "altura": 297},
      {"serie": "CONCEPCIÓN (Niveles Diarios)", "fecha": "2020-01-17", "altura": 285},
      {"serie": "CONCEPCIÓN (Niveles Diarios)", "fecha": "2020-01-22", "altura": 250},
      {"serie": "CONCEPCIÓN (Niveles Diarios)", "fecha": "2020-01-25", "altura": 236},
      {"serie": "CONCEPCIÓN (Niveles Diarios)", "fecha": "2020-01-28", "altura": 238},
      {"serie": "CONCEPCIÓN (Niveles Diarios)", "fecha": "2020-02-02", "altura": 255},
      {"serie": "CONCEPCIÓN (Niveles Diarios)", "fecha": "2020-02-06", "altura": 264},
      {"serie": "CONCEPCIÓN (Niveles Diarios)", "fecha": "2020-02-10", "altura": 288},
      {"serie": "CONCEPCIÓN (Niveles Diarios)", "fecha": "2020-02-13", "altura": 264},
      {"serie": "CONCEPCIÓN (Niveles Diarios)", "fecha": "2020-02-17", "altura": 241},
      {"serie": "CONCEPCIÓN (Niveles Diarios)", "fecha": "2020-02-22", "altura": 231},
      {"serie": "CONCEPCIÓN (Niveles Diarios)", "fecha": "2020-02-26", "altura": 227},
      {"serie": "CONCEPCIÓN (Niveles Diarios)", "fecha": "2020-03-02", "altura": 217},
      {"serie": "CONCEPCIÓN (Niveles Diarios)", "fecha": "2020-03-07", "altura": 203},
      {"serie": "CONCEPCIÓN (Niveles Diarios)", "fecha": "2020-03-11", "altura": 191},
      {"serie": "CONCEPCIÓN (Niveles Diarios)", "fecha": "2020-03-18", "altura": 196},
      {"serie": "CONCEPCIÓN (Niveles Diarios)", "fecha": "2020-03-23", "altura": 194},
      {"serie": "CONCEPCIÓN (Niveles Diarios)", "fecha": "2020-03-29", "altura": 194},
      {"serie": "CONCEPCIÓN (Niveles Diarios)", "fecha": "2020-04-04", "altura": 196},
      {"serie": "CONCEPCIÓN (Niveles Diarios)", "fecha": "2020-04-11", "altura": 201},
      {"serie": "CONCEPCIÓN (Niveles Diarios)", "fecha": "2020-04-17", "altura": 208},
      {"serie": "CONCEPCIÓN (Niveles Diarios)", "fecha": "2020-04-23", "altura": 196},
      {"serie": "CONCEPCIÓN (Niveles Diarios)", "fecha": "2020-04-29", "altura": 194},
      {"serie": "CONCEPCIÓN (Niveles Diarios)", "fecha": "2020-05-05", "altura": 191},
      {"serie": "CONCEPCIÓN (Niveles Diarios)", "fecha": "2020-05-12", "altura": 187},
      {"serie": "CONCEPCIÓN (Niveles Diarios)", "fecha": "2020-05-18", "altura": 194},
      {"serie": "CONCEPCIÓN (Niveles Diarios)", "fecha": "2020-05-24", "altura": 198},
      {"serie": "CONCEPCIÓN (Niveles Diarios)", "fecha": "2020-06-02", "altura": 201},
      {"serie": "CONCEPCIÓN (Niveles Diarios)", "fecha": "2020-06-09", "altura": 210},
      {"serie": "CONCEPCIÓN (Niveles Diarios)", "fecha": "2020-06-15", "altura": 208},
      {"serie": "CONCEPCIÓN (Niveles Diarios)", "fecha": "2020-06-21", "altura": 205},
      {"serie": "CONCEPCIÓN (Niveles Diarios)", "fecha": "2020-06-29", "altura": 203},
      {"serie": "CONCEPCIÓN (Niveles Diarios)", "fecha": "2020-07-04", "altura": 208},
      {"serie": "CONCEPCIÓN (Niveles Diarios)", "fecha": "2020-07-10", "altura": 203},
      {"serie": "CONCEPCIÓN (Niveles Diarios)", "fecha": "2020-07-16", "altura": 198},
      {"serie": "CONCEPCIÓN (Niveles Diarios)", "fecha": "2020-07-23", "altura": 189},
      {"serie": "CONCEPCIÓN (Niveles Diarios)", "fecha": "2020-07-29", "altura": 180},
      {"serie": "CONCEPCIÓN (Niveles Diarios)", "fecha": "2020-08-04", "altura": 170},
      {"serie": "CONCEPCIÓN (Niveles Diarios)", "fecha": "2020-08-10", "altura": 161},
      {"serie": "CONCEPCIÓN (Niveles Diarios)", "fecha": "2020-08-17", "altura": 151},
      {"serie": "CONCEPCIÓN (Niveles Diarios)", "fecha": "2020-08-21", "altura": 156},
      {"serie": "CONCEPCIÓN (Niveles Diarios)", "fecha": "2020-08-23", "altura": 175},
      {"serie": "CONCEPCIÓN (Niveles Diarios)", "fecha": "2020-08-26", "altura": 212},
      {"serie": "CONCEPCIÓN (Niveles Diarios)", "fecha": "2020-08-27", "altura": 217},
      {"serie": "CONCEPCIÓN (Niveles Diarios)", "fecha": "2020-08-30", "altura": 198},
      {"serie": "CONCEPCIÓN (Niveles Diarios)", "fecha": "2020-09-01", "altura": 166},
      {"serie": "CONCEPCIÓN (Niveles Diarios)", "fecha": "2020-09-04", "altura": 151},
      {"serie": "CONCEPCIÓN (Niveles Diarios)", "fecha": "2020-09-09", "altura": 142},
      {"serie": "CONCEPCIÓN (Niveles Diarios)", "fecha": "2020-09-15", "altura": 128},
      {"serie": "CONCEPCIÓN (Niveles Diarios)", "fecha": "2020-09-21", "altura": 114},
      {"serie": "CONCEPCIÓN (Niveles Diarios)", "fecha": "2020-09-29", "altura": 100},
      {"serie": "CONCEPCIÓN (Niveles Diarios)", "fecha": "2020-10-05", "altura": 88},
      {"serie": "CONCEPCIÓN (Niveles Diarios)", "fecha": "2020-10-12", "altura": 81},
      {"serie": "CONCEPCIÓN (Niveles Diarios)", "fecha": "2020-10-16", "altura": 77},
      {"serie": "CONCEPCIÓN (Niveles Diarios)", "fecha": "2020-10-21", "altura": 74},
      {"serie": "CONCEPCIÓN (Niveles Diarios)", "fecha": "2020-10-25", "altura": 69},
      {"serie": "CONCEPCIÓN (Niveles Diarios)", "fecha": "2020-10-28", "altura": 76},
      {"serie": "CONCEPCIÓN (Niveles Diarios)", "fecha": "2020-11-01", "altura": 91},
      {"serie": "CONCEPCIÓN (Niveles Diarios)", "fecha": "2020-11-04", "altura": 116},
      {"serie": "CONCEPCIÓN (Niveles Diarios)", "fecha": "2020-11-07", "altura": 102},
      {"serie": "CONCEPCIÓN (Niveles Diarios)", "fecha": "2020-11-11", "altura": 98},
      {"serie": "CONCEPCIÓN (Niveles Diarios)", "fecha": "2020-11-15", "altura": 114},
      {"serie": "CONCEPCIÓN (Niveles Diarios)", "fecha": "2020-11-18", "altura": 142},
      {"serie": "CONCEPCIÓN (Niveles Diarios)", "fecha": "2020-11-21", "altura": 156},
      {"serie": "CONCEPCIÓN (Niveles Diarios)", "fecha": "2020-11-24", "altura": 137},
      {"serie": "CONCEPCIÓN (Niveles Diarios)", "fecha": "2020-11-27", "altura": 119},
      {"serie": "CONCEPCIÓN (Niveles Diarios)", "fecha": "2020-12-02", "altura": 107},
      {"serie": "CONCEPCIÓN (Niveles Diarios)", "fecha": "2020-12-06", "altura": 109},
      {"serie": "CONCEPCIÓN (Niveles Diarios)", "fecha": "2020-12-09", "altura": 123},
      {"serie": "CONCEPCIÓN (Niveles Diarios)", "fecha": "2020-12-13", "altura": 107},
      {"serie": "CONCEPCIÓN (Niveles Diarios)", "fecha": "2020-12-17", "altura": 114},
      {"serie": "CONCEPCIÓN (Niveles Diarios)", "fecha": "2020-12-20", "altura": 130},
      {"serie": "CONCEPCIÓN (Niveles Diarios)", "fecha": "2020-12-25", "altura": 114},
      {"serie": "CONCEPCIÓN (Niveles Diarios)", "fecha": "2020-12-29", "altura": 109},
      {"serie": "CONCEPCIÓN (Niveles Diarios)", "fecha": "2021-01-03", "altura": 107},
      {"serie": "CONCEPCIÓN (Niveles Diarios)", "fecha": "2021-01-06", "altura": 142},
      {"serie": "CONCEPCIÓN (Niveles Diarios)", "fecha": "2021-01-09", "altura": 189},
      {"serie": "CONCEPCIÓN (Niveles Diarios)", "fecha": "2021-01-12", "altura": 189},
      {"serie": "CONCEPCIÓN (Niveles Diarios)", "fecha": "2021-01-15", "altura": 161},
      {"serie": "CONCEPCIÓN (Niveles Diarios)", "fecha": "2021-01-18", "altura": 212},
      {"serie": "CONCEPCIÓN (Niveles Diarios)", "fecha": "2021-01-21", "altura": 214},
      {"serie": "CONCEPCIÓN (Niveles Diarios)", "fecha": "2021-01-24", "altura": 269},
      {"serie": "CONCEPCIÓN (Niveles Diarios)", "fecha": "2021-01-27", "altura": 316},
      {"serie": "CONCEPCIÓN (Niveles Diarios)", "fecha": "2021-01-31", "altura": 363},
      {"serie": "CONCEPCIÓN (Niveles Diarios)", "fecha": "2021-02-03", "altura": 395},
      {"serie": "CONCEPCIÓN (Niveles Diarios)", "fecha": "2021-02-06", "altura": 391},
      {"serie": "CONCEPCIÓN (Niveles Diarios)", "fecha": "2021-02-09", "altura": 358},
      {"serie": "CONCEPCIÓN (Niveles Diarios)", "fecha": "2021-02-12", "altura": 316},
      {"serie": "CONCEPCIÓN (Niveles Diarios)", "fecha": "2021-02-15", "altura": 278},
      {"serie": "CONCEPCIÓN (Niveles Diarios)", "fecha": "2021-02-18", "altura": 255},
      {"serie": "CONCEPCIÓN (Niveles Diarios)", "fecha": "2021-02-21", "altura": 245},
      {"serie": "CONCEPCIÓN (Niveles Diarios)", "fecha": "2021-02-24", "altura": 231},
      {"serie": "CONCEPCIÓN (Niveles Diarios)", "fecha": "2021-03-01", "altura": 222},
      {"serie": "CONCEPCIÓN (Niveles Diarios)", "fecha": "2021-03-05", "altura": 220},
      {"serie": "CONCEPCIÓN (Niveles Diarios)", "fecha": "2021-03-12", "altura": 225},
      {"serie": "CONCEPCIÓN (Niveles Diarios)", "fecha": "2021-03-16", "altura": 220},
      {"serie": "CONCEPCIÓN (Niveles Diarios)", "fecha": "2021-03-22", "altura": 225},
      {"serie": "CONCEPCIÓN (Niveles Diarios)", "fecha": "2021-03-31", "altura": 222},
      {"serie": "CONCEPCIÓN (Niveles Diarios)", "fecha": "2021-04-06", "altura": 217},
      {"serie": "CONCEPCIÓN (Niveles Diarios)", "fecha": "2021-04-12", "altura": 215},
      {"serie": "CONCEPCIÓN (Niveles Diarios)", "fecha": "2021-04-15", "altura": 210},
      {"serie": "CONCEPCIÓN (Niveles Diarios)", "fecha": "2021-04-18", "altura": 220},
      {"serie": "CONCEPCIÓN (Niveles Diarios)", "fecha": "2021-04-21", "altura": 212},
      {"serie": "CONCEPCIÓN (Niveles Diarios)", "fecha": "2021-04-24", "altura": 220},
      {"serie": "CONCEPCIÓN (Niveles Diarios)", "fecha": "2021-04-29", "altura": 212},
      {"serie": "CONCEPCIÓN (Niveles Diarios)", "fecha": "2021-05-04", "altura": 201},
      {"serie": "CONCEPCIÓN (Niveles Diarios)", "fecha": "2021-05-10", "altura": 191},
      {"serie": "CONCEPCIÓN (Niveles Diarios)", "fecha": "2021-05-16", "altura": 184},
      {"serie": "CONCEPCIÓN (Niveles Diarios)", "fecha": "2021-05-22", "altura": 175},
      {"serie": "CONCEPCIÓN (Niveles Diarios)", "fecha": "2021-05-28", "altura": 168},
      {"serie": "CONCEPCIÓN (Niveles Diarios)", "fecha": "2021-06-04", "altura": 166},
      {"serie": "CONCEPCIÓN (Niveles Diarios)", "fecha": "2021-06-13", "altura": 166},
      {"serie": "CONCEPCIÓN (Niveles Diarios)", "fecha": "2021-06-19", "altura": 168},
      {"serie": "CONCEPCIÓN (Niveles Diarios)", "fecha": "2021-06-22", "altura": 175},
      {"serie": "CONCEPCIÓN (Niveles Diarios)", "fecha": "2021-06-25", "altura": 170},
      {"serie": "CONCEPCIÓN (Niveles Diarios)", "fecha": "2021-07-01", "altura": 168},
      {"serie": "CONCEPCIÓN (Niveles Diarios)", "fecha": "2021-07-07", "altura": 163},
      {"serie": "CONCEPCIÓN (Niveles Diarios)", "fecha": "2021-07-13", "altura": 156},
      {"serie": "CONCEPCIÓN (Niveles Diarios)", "fecha": "2021-07-19", "altura": 151},
      {"serie": "CONCEPCIÓN (Niveles Diarios)", "fecha": "2021-07-26", "altura": 147},
      {"serie": "CONCEPCIÓN (Niveles Diarios)", "fecha": "2021-08-01", "altura": 135},
      {"serie": "CONCEPCIÓN (Niveles Diarios)", "fecha": "2021-08-07", "altura": 128},
      {"serie": "CONCEPCIÓN (Niveles Diarios)", "fecha": "2021-08-13", "altura": 121},
      {"serie": "CONCEPCIÓN (Niveles Diarios)", "fecha": "2021-08-19", "altura": 114},
      {"serie": "CONCEPCIÓN (Niveles Diarios)", "fecha": "2021-08-25", "altura": 107},
      {"serie": "CONCEPCIÓN (Niveles Diarios)", "fecha": "2021-09-01", "altura": 102},
      {"serie": "CONCEPCIÓN (Niveles Diarios)", "fecha": "2021-09-07", "altura": 98},
      {"serie": "CONCEPCIÓN (Niveles Diarios)", "fecha": "2021-09-12", "altura": 88},
      {"serie": "CONCEPCIÓN (Niveles Diarios)", "fecha": "2021-09-18", "altura": 79},
      {"serie": "CONCEPCIÓN (Niveles Diarios)", "fecha": "2021-09-24", "altura": 72},
      {"serie": "CONCEPCIÓN (Niveles Diarios)", "fecha": "2021-09-30", "altura": 67},
      {"serie": "CONCEPCIÓN (Niveles Diarios)", "fecha": "2021-10-05", "altura": 65},
      {"serie": "CONCEPCIÓN (Niveles Diarios)", "fecha": "2021-10-10", "altura": 60}
    ]
  },
  "layer": [
    {
      "data": {"values": [{}]},
      "mark": {"type": "rect", "fill": "transparent", "stroke": "black", "strokeWidth": 4},
      "encoding": {
        "x": {"datum": {"year": 2018, "month": 6, "date": 11, "utc": true}, "type": "temporal", "axis": null},
        "x2": {"datum": {"year": 2022, "month": 1, "date": 17, "utc": true}},
        "y": {"datum": 853, "type": "quantitative", "axis": {"values": [0, 40, 80, 120, 160, 200, 240, 280, 320, 360, 400, 440, 480, 520, 560, 600, 640, 680, 720], "title": "ALTURA\u00a0\u00a0HIDROMÉTRICA\u00a0\u00a0(cm)"}},
        "y2": {"datum": -300}
      }
    },
    {
      "data": {"values": [{}]},
      "mark": {"type": "rect", "fill": "transparent", "stroke": "black", "strokeWidth": 1.5},
      "encoding": {
        "x": {"datum": {"year": 2019, "month": 3, "date": 12, "utc": true}, "type": "temporal", "axis": null},
        "x2": {"datum": {"year": 2021, "month": 4, "date": 18, "utc": true}},
        "y": {"datum": 837, "type": "quantitative", "axis": {"values": [0, 40, 80, 120, 160, 200, 240, 280, 320, 360, 400, 440, 480, 520, 560, 600, 640, 680, 720], "title": "ALTURA\u00a0\u00a0HIDROMÉTRICA\u00a0\u00a0(cm)"}},
        "y2": {"datum": 760}
      }
    },
    {
      "data": {"values": [{}]},
      "mark": {"type": "text", "font": "Liberation Sans", "fontSize": 23, "fontWeight": "bold", "color": "black", "align": "center", "baseline": "middle"},
      "encoding": {
        "x": {"datum": {"year": 2020, "month": 3, "date": 30, "utc": true}, "type": "temporal", "axis": null},
        "y": {"datum": 817, "type": "quantitative", "axis": {"values": [0, 40, 80, 120, 160, 200, 240, 280, 320, 360, 400, 440, 480, 520, 560, 600, 640, 680, 720], "title": "ALTURA\u00a0\u00a0HIDROMÉTRICA\u00a0\u00a0(cm)"}},
        "text": {"value": "Río\u00a0 Paraguay\u00a0 en\u00a0 BAHÍA\u00a0 NEGRA\u00a0 y\u00a0 CONCEPCIÓN"}
      }
    },
    {
      "data": {"values": [{}]},
      "mark": {"type": "text", "font": "Liberation Sans", "fontSize": 23, "fontWeight": "bold", "color": "black", "align": "center", "baseline": "middle"},
      "encoding": {
        "x": {"datum": {"year": 2020, "month": 3, "date": 30, "utc": true}, "type": "temporal", "axis": null},
        "y": {"datum": 781, "type": "quantitative", "axis": {"values": [0, 40, 80, 120, 160, 200, 240, 280, 320, 360, 400, 440, 480, 520, 560, 600, 640, 680, 720], "title": "ALTURA\u00a0\u00a0HIDROMÉTRICA\u00a0\u00a0(cm)"}},
        "text": {"value": "Período\u00a0 Septiembre\u00a0 2018\u00a0 a\u00a0 Septiembre\u00a0 2021\u00a0 y\u00a0 Promedios\u00a0 Mensuales"}
      }
    },
    {
      "data": {"values": [{}]},
      "mark": {"type": "rect", "fill": "transparent", "stroke": "black", "strokeWidth": 1.5},
      "encoding": {
        "x": {"datum": {"year": 2018, "month": 10, "date": 18, "utc": true}, "type": "temporal", "axis": null},
        "x2": {"datum": {"year": 2021, "month": 10, "date": 8, "utc": true}},
        "y": {"datum": -92, "type": "quantitative", "axis": {"values": [0, 40, 80, 120, 160, 200, 240, 280, 320, 360, 400, 440, 480, 520, 560, 600, 640, 680, 720], "title": "ALTURA\u00a0\u00a0HIDROMÉTRICA\u00a0\u00a0(cm)"}},
        "y2": {"datum": -204}
      }
    },
    {
      "data": {"name": "mensual"},
      "mark": {"type": "line", "interpolate": "step-after"},
      "encoding": {
        "x": {
          "field": "fecha",
          "type": "temporal",
          "title": "MES",
          "scale": {
            "type": "utc",
            "domain": [{"year": 2018, "month": 9, "date": 1, "utc": true}, {"year": 2021, "month": 10, "date": 10, "utc": true}],
            "nice": false
          },
          "axis": {
            "orient": "bottom",
            "tickCount": {"interval": "month", "step": 2},
            "grid": true,
            "gridColor": "#9a9a9a",
            "gridWidth": 1.5,
            "labelExpr": "['ene.','feb.','mar.','abr.','may.','jun.','jul.','ago.','sep.','oct.','nov.','dic.'][utcmonth(datum.value)] + '-' + utcFormat(datum.value, '%y')",
            "labelFont": "Liberation Sans",
            "labelFontSize": 17,
            "labelColor": "black",
            "labelPadding": 6,
            "labelOverlap": false,
            "labelFlush": false,
            "tickSize": 7,
            "tickColor": "black",
            "tickWidth": 1,
            "domainColor": "black",
            "domainWidth": 1.5,
            "titleFont": "Liberation Sans",
            "titleFontSize": 14,
            "titleFontWeight": "bold",
            "titleColor": "black",
            "titlePadding": 22
          }
        },
        "y": {
          "field": "altura",
          "type": "quantitative",
          "scale": {"domain": [0, 720], "nice": false, "zero": true},
          "axis": {"values": [0, 40, 80, 120, 160, 200, 240, 280, 320, 360, 400, 440, 480, 520, 560, 600, 640, 680, 720], "title": "ALTURA\u00a0\u00a0HIDROMÉTRICA\u00a0\u00a0(cm)"}
        },
        "color": {
          "field": "serie",
          "type": "nominal",
          "scale": {
            "domain": ["BAHÍA NEGRA (Niveles Medios Mensuales)", "CONCEPCIÓN (Niveles Medios Mensuales)", "BAHÍA NEGRA (Niveles Diarios)", "CONCEPCIÓN (Niveles Diarios)"],
            "range": ["#0000ff", "#ff0000", "#0000ff", "#ff0000"]
          },
          "legend": {
            "orient": "none",
            "legendX": 179,
            "legendY": 657,
            "columns": 2,
            "columnPadding": 258,
            "rowPadding": 17,
            "padding": 0,
            "title": null,
            "symbolType": "stroke",
            "symbolSize": 1600,
            "symbolStrokeWidth": 3,
            "labelFont": "Liberation Sans",
            "labelFontSize": 14,
            "labelFontWeight": "bold",
            "labelColor": "black",
            "labelOffset": 2,
            "labelLimit": 0
          }
        },
        "strokeWidth": {
          "field": "serie",
          "type": "nominal",
          "legend": null,
          "scale": {
            "type": "ordinal",
            "domain": ["BAHÍA NEGRA (Niveles Medios Mensuales)", "CONCEPCIÓN (Niveles Medios Mensuales)", "BAHÍA NEGRA (Niveles Diarios)", "CONCEPCIÓN (Niveles Diarios)"],
            "range": [4, 2, 2, 4]
          }
        }
      }
    },
    {
      "data": {"name": "diario"},
      "mark": {"type": "line"},
      "encoding": {
        "x": {
          "field": "fecha",
          "type": "temporal",
          "axis": {
            "orient": "bottom",
            "tickCount": {"interval": "day", "step": 5},
            "grid": false,
            "labels": false,
            "domain": false,
            "tickSize": -5,
            "tickColor": "black",
            "tickWidth": 1,
            "title": null
          }
        },
        "y": {"field": "altura", "type": "quantitative", "axis": {"values": [0, 40, 80, 120, 160, 200, 240, 280, 320, 360, 400, 440, 480, 520, 560, 600, 640, 680, 720], "title": "ALTURA\u00a0\u00a0HIDROMÉTRICA\u00a0\u00a0(cm)"}},
        "color": {"field": "serie", "type": "nominal", "legend": null},
        "strokeWidth": {"field": "serie", "type": "nominal", "legend": null}
      }
    }
  ],
  "resolve": {"axis": {"x": "independent"}}
}
